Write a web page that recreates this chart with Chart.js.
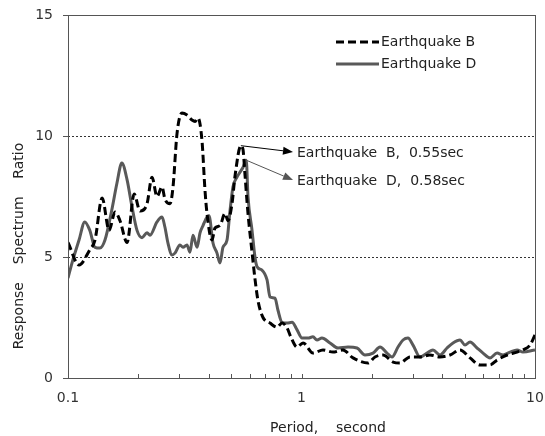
<!DOCTYPE html>
<html>
<head>
<meta charset="utf-8">
<script src="https://cdn.jsdelivr.net/npm/chart.js@4/dist/chart.umd.min.js"></script>
<style>
  html, body { margin: 0; padding: 0; background: #fff; }
  #wrap { width: 545px; height: 436px; }
</style>
</head>
<body>
<div id="wrap"><canvas id="c" width="545" height="436"></canvas></div>
<script>
// Response spectrum ratios against period (s)
const periodB = [0.1, 0.1115, 0.124, 0.1305, 0.14, 0.15, 0.159, 0.167, 0.179, 0.192, 0.2035, 0.218, 0.229, 0.2405, 0.2527, 0.26, 0.2735, 0.2817, 0.293, 0.3078, 0.3233, 0.3396, 0.35, 0.3604, 0.3749, 0.386, 0.3938, 0.4137, 0.4262, 0.4477, 0.4703, 0.4844, 0.5039, 0.52, 0.55, 0.5615, 0.5727, 0.59, 0.614, 0.632, 0.651, 0.684, 0.733, 0.785, 0.825, 0.867, 0.9, 0.956, 1.015, 1.12, 1.236, 1.364, 1.505, 1.662, 1.927, 2.064, 2.234, 2.466, 2.642, 2.915, 3.217, 3.55, 3.918, 4.325, 4.774, 5.268, 5.815, 6.418, 6.877, 7.589, 8.375, 8.885, 9.52, 10];
const ratioB = [5.6, 4.67, 5.3, 5.7, 7.44, 6.1, 6.86, 6.5, 5.6, 7.6, 6.9, 7.2, 8.3, 7.5, 7.9, 7.4, 7.2, 7.9, 10.1, 10.95, 10.87, 10.66, 10.6, 10.74, 9.8, 7.77, 6.8, 5.7, 6.2, 6.3, 6.8, 6.5, 7.2, 8.4, 9.6, 9.45, 8.4, 6.8, 5.2, 4.1, 3.2, 2.5, 2.27, 2.1, 2.27, 2.07, 1.7, 1.28, 1.45, 1.03, 1.16, 1.07, 1.16, 0.83, 0.62, 0.87, 0.95, 0.66, 0.62, 0.87, 0.87, 0.95, 0.87, 0.95, 1.16, 0.83, 0.54, 0.54, 0.74, 0.95, 1.07, 1.16, 1.36, 1.78];

const periodD = [0.1, 0.104, 0.1115, 0.118, 0.124, 0.1305, 0.137, 0.144, 0.154, 0.162, 0.17, 0.179, 0.188, 0.1975, 0.2075, 0.218, 0.2245, 0.2405, 0.2527, 0.26, 0.268, 0.279, 0.287, 0.3017, 0.3108, 0.3233, 0.333, 0.343, 0.357, 0.3676, 0.3786, 0.3938, 0.4017, 0.418, 0.4346, 0.4477, 0.461, 0.4797, 0.494, 0.5089, 0.5293, 0.545, 0.5615, 0.58, 0.59, 0.614, 0.632, 0.645, 0.677, 0.712, 0.733, 0.77, 0.793, 0.825, 0.867, 0.911, 0.956, 1.005, 1.066, 1.12, 1.165, 1.224, 1.324, 1.433, 1.582, 1.729, 1.87, 2.025, 2.169, 2.324, 2.441, 2.59, 2.721, 2.858, 3.003, 3.217, 3.447, 3.657, 3.918, 4.199, 4.455, 4.774, 5.015, 5.268, 5.645, 5.99, 6.418, 6.877, 7.295, 7.816, 8.375, 8.885, 10];
const ratioD = [4.13, 4.75, 5.7, 6.45, 6.1, 5.4, 5.37, 5.7, 6.94, 8.05, 8.88, 8.2, 7.07, 6.1, 5.8, 6.0, 5.9, 6.45, 6.65, 6.24, 5.57, 5.08, 5.16, 5.5, 5.4, 5.5, 5.2, 5.9, 5.4, 6.0, 6.3, 6.65, 6.7, 5.57, 5.16, 4.75, 5.4, 5.7, 6.9, 7.9, 8.3, 8.5, 8.7, 9.0, 7.5, 6.1, 5.0, 4.6, 4.46, 4.05, 3.35, 3.3, 2.8, 2.3, 2.27, 2.3, 2.0, 1.65, 1.65, 1.7, 1.57, 1.65, 1.45, 1.24, 1.28, 1.24, 0.95, 1.03, 1.28, 1.03, 0.87, 1.28, 1.57, 1.65, 1.36, 0.87, 1.03, 1.16, 0.95, 1.24, 1.45, 1.57, 1.36, 1.49, 1.24, 1.03, 0.83, 1.03, 0.95, 1.07, 1.16, 1.07, 1.16];

const seriesNames = ['Earthquake B', 'Earthquake D'];
const xTickLabels = [0.1, 1, 10];
const xMinorTicks = [0.2, 0.3, 0.4, 0.5, 0.6, 0.7, 0.8, 0.9, 1, 2, 3, 4, 5, 6, 7, 8, 9];
const yTickValues = [0, 5, 10, 15];

// peak call-outs: series index, period, label text
const peakNotes = [
  { series: 0, period: 0.55, text: 'Earthquake  B,  0.55sec', tx: 297, ty: 153 },
  { series: 1, period: 0.58, text: 'Earthquake  D,  0.58sec', tx: 297, ty: 181 }
];

const FONT = '"DejaVu Sans", sans-serif';
const TEXT = '#222';

function toPoints(xs, ys) { return xs.map((x, i) => ({ x, y: ys[i] })); }

function noScalePadding(s) {
  s.paddingLeft = 0; s.paddingRight = 0; s.paddingTop = 0; s.paddingBottom = 0;
}

const decor = {
  id: 'decor',
  beforeDatasetsDraw(chart) {
    const { ctx, chartArea: a, scales: { y } } = chart;
    ctx.save();
    ctx.strokeStyle = '#333';
    ctx.lineWidth = 1;
    ctx.setLineDash([2, 2]);
    yTickValues.filter(v => v > y.min && v < y.max).forEach(v => {
      const py = Math.round(y.getPixelForValue(v)) + 0.5;
      ctx.beginPath(); ctx.moveTo(a.left, py); ctx.lineTo(a.right, py); ctx.stroke();
    });
    ctx.restore();
  },
  afterDraw(chart) {
    const { ctx, chartArea: a, scales: { x, y } } = chart;
    const ds = chart.data.datasets;
    ctx.save();

    // plot frame
    ctx.strokeStyle = '#555';
    ctx.lineWidth = 1;
    ctx.strokeRect(Math.round(a.left) + 0.5, Math.round(a.top) + 0.5,
                   Math.round(a.right - a.left), Math.round(a.bottom - a.top));

    // inward minor ticks on the period axis
    ctx.beginPath();
    xMinorTicks.forEach(v => {
      const px = Math.round(x.getPixelForValue(v)) + 0.5;
      ctx.moveTo(px, a.bottom); ctx.lineTo(px, a.bottom - 4);
    });
    ctx.stroke();

    // legend
    ctx.font = '14px ' + FONT;
    ctx.textBaseline = 'middle';
    ctx.textAlign = 'left';
    ds.forEach((d, i) => {
      const ly = 42 + i * 22;
      ctx.strokeStyle = d.borderColor;
      ctx.lineWidth = d.borderWidth;
      ctx.setLineDash(d.borderDash || []);
      ctx.beginPath(); ctx.moveTo(336, ly); ctx.lineTo(379, ly); ctx.stroke();
      ctx.setLineDash([]);
      ctx.fillStyle = TEXT;
      ctx.fillText(d.label, 381, ly);
    });

    // peak call-outs with arrows
    peakNotes.forEach(n => {
      const d = ds[n.series];
      const pt = d.data.find(p => p.x === n.period);
      const sx = x.getPixelForValue(pt.x), sy = y.getPixelForValue(pt.y);
      const ex = n.tx - 4, ey = n.ty - 1;
      const col = n.series === 0 ? '#000' : '#555';
      ctx.strokeStyle = col; ctx.fillStyle = col; ctx.lineWidth = 1;
      const ang = Math.atan2(ey - sy, ex - sx);
      const hl = 10, hw = 4;
      const bx = ex - hl * Math.cos(ang), by = ey - hl * Math.sin(ang);
      ctx.beginPath(); ctx.moveTo(sx, sy); ctx.lineTo(bx, by); ctx.stroke();
      ctx.beginPath();
      ctx.moveTo(ex, ey);
      ctx.lineTo(bx + hw * Math.sin(ang), by - hw * Math.cos(ang));
      ctx.lineTo(bx - hw * Math.sin(ang), by + hw * Math.cos(ang));
      ctx.closePath(); ctx.fill();
      ctx.fillStyle = TEXT;
      ctx.fillText(n.text, n.tx, n.ty);
    });

    // axis titles
    ctx.fillStyle = TEXT;
    ctx.textAlign = 'center';
    ctx.fillText('Period,    second', 328, 428);
    ctx.translate(19, 246);
    ctx.rotate(-Math.PI / 2);
    ctx.fillText('Response    Spectrum    Ratio', 0, 0);
    ctx.restore();
  }
};

new Chart(document.getElementById('c'), {
  type: 'line',
  data: {
    datasets: [
      {
        label: seriesNames[0],
        data: toPoints(periodB, ratioB),
        borderColor: '#000',
        borderWidth: 3,
        borderDash: [8, 4],
        pointRadius: 0,
        cubicInterpolationMode: 'monotone',
        fill: false
      },
      {
        label: seriesNames[1],
        data: toPoints(periodD, ratioD),
        borderColor: '#595959',
        borderWidth: 3,
        pointRadius: 0,
        cubicInterpolationMode: 'monotone',
        fill: false
      }
    ]
  },
  options: {
    responsive: false,
    animation: false,
    devicePixelRatio: 1,
    layout: { padding: { top: 15, right: 10, left: 0, bottom: 0 } },
    plugins: { legend: { display: false }, tooltip: { enabled: false } },
    scales: {
      x: {
        type: 'logarithmic',
        min: 0.1,
        max: 10,
        afterBuildTicks: s => { s.ticks = xTickLabels.map(v => ({ value: v })); },
        afterFit: s => { s.height = 58; noScalePadding(s); },
        ticks: {
          autoSkip: false,
          maxRotation: 0,
          padding: 12,
          color: '#333',
          font: { family: FONT, size: 14 },
          callback: v => String(v)
        },
        grid: { display: false, drawTicks: false },
        border: { display: false }
      },
      y: {
        min: 0,
        max: 15,
        afterBuildTicks: s => { s.ticks = yTickValues.map(v => ({ value: v })); },
        afterFit: s => { s.width = 68; noScalePadding(s); },
        ticks: {
          padding: 10,
          color: '#333',
          font: { family: FONT, size: 14 }
        },
        grid: { drawOnChartArea: false, drawTicks: true, tickLength: 5, color: '#555' },
        border: { display: false }
      }
    }
  },
  plugins: [decor]
});
</script>
</body>
</html>
